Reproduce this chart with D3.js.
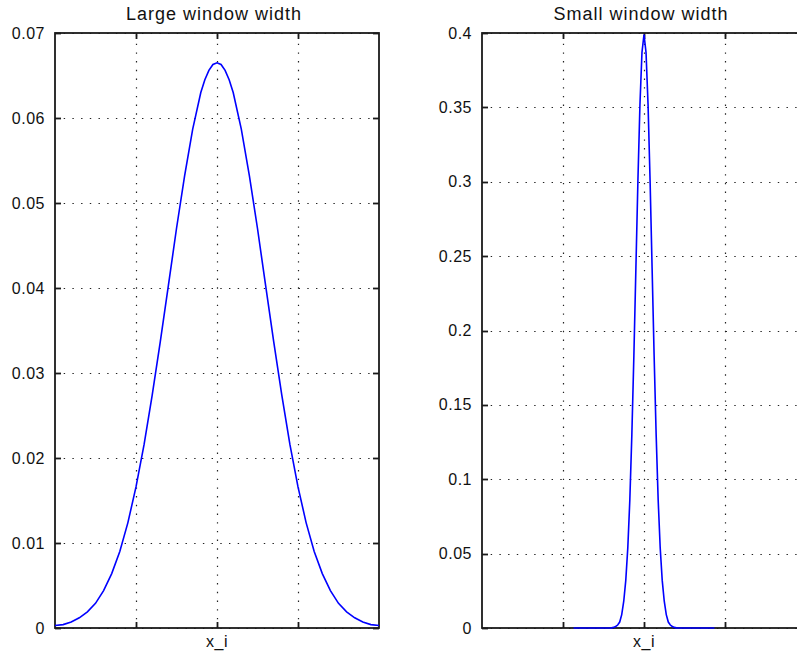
<!DOCTYPE html>
<html lang="en">
<head>
  <meta charset="UTF-8">
  <script src="https://d3js.org/d3.v7.min.js"></script>
  <title>Window width</title>
  <style>
    body { margin: 0; background: #fff; }
    text { font-family: "Liberation Sans", Arial, Helvetica, sans-serif; fill: #111; }
  </style>
</head>
<body>
  <svg width="797" height="658"></svg>
  <script>
    // shared x axis
    const xDomain = [-20, 20];
    const xTicks = [-10, 0, 10];
    const xTickLabels = ["", "x_i", ""];

    // left panel: large window width
    const largeTitle = "Large window width";
    const largeYTicks = [0, 0.01, 0.02, 0.03, 0.04, 0.05, 0.06, 0.07];
    const largeYLabels = ["0", "0.01", "0.02", "0.03", "0.04", "0.05", "0.06", "0.07"];
    const largeX = [-20, -19, -18, -17, -16, -15, -14, -13, -12, -11, -10, -9, -8, -7, -6, -5, -4, -3, -2, -1.5, -1, -0.5,
      0, 0.5, 1, 1.5, 2, 3, 4, 5, 6, 7, 8, 9, 10, 11, 12, 13, 14, 15, 16, 17, 18, 19, 20];
    const largeY = [0.0003, 0.0004, 0.0007, 0.0012, 0.0019, 0.0029, 0.0044, 0.0064, 0.0090, 0.0124,
      0.0166, 0.0216, 0.0274, 0.0337, 0.0403, 0.0470, 0.0532, 0.0587, 0.0630, 0.0645, 0.0656, 0.0663,
      0.0665,
      0.0663, 0.0656, 0.0645, 0.0630, 0.0587, 0.0532, 0.0470, 0.0403, 0.0337, 0.0274, 0.0216, 0.0166,
      0.0124, 0.0090, 0.0064, 0.0044, 0.0029, 0.0019, 0.0012, 0.0007, 0.0004, 0.0003];

    // right panel: small window width
    const smallTitle = "Small window width";
    const smallYTicks = [0, 0.05, 0.1, 0.15, 0.2, 0.25, 0.3, 0.35, 0.4];
    const smallYLabels = ["0", "0.05", "0.1", "0.15", "0.2", "0.25", "0.3", "0.35", "0.4"];
    const smallX = [-8.7, -4, -3.75, -3.5, -3.25, -3, -2.75, -2.5, -2.25, -2, -1.75, -1.5, -1.25, -1, -0.75, -0.5, -0.25,
      0, 0.25, 0.5, 0.75, 1, 1.25, 1.5, 1.75, 2, 2.25, 2.5, 2.75, 3, 3.25, 3.5, 3.75, 4, 8.7];
    const smallY = [0, 0.0001, 0.0004, 0.001, 0.002, 0.004, 0.009, 0.018, 0.032, 0.054, 0.086, 0.130, 0.183, 0.242, 0.301, 0.352, 0.387,
      0.399, 0.387, 0.352, 0.301, 0.242, 0.183, 0.130, 0.086, 0.054, 0.032, 0.018, 0.009, 0.004, 0.002, 0.001, 0.0004, 0.0001, 0];

    const svg = d3.select("svg");

    function drawPanel(opt) {
      const x = d3.scaleLinear().domain(xDomain).range([opt.left, opt.right]);
      const y = d3.scaleLinear().domain([0, opt.yMax]).range([628, 33]);
      const g = svg.append("g");
      const tick = 6;

      // dotted grid
      g.selectAll(".vgrid").data(xTicks).join("line")
        .attr("x1", d => Math.round(x(d)) + 0.5).attr("x2", d => Math.round(x(d)) + 0.5)
        .attr("y1", y(0)).attr("y2", y(opt.yMax))
        .attr("stroke", "#222").attr("stroke-width", 1.2).attr("stroke-dasharray", "1.4 7.3");
      g.selectAll(".hgrid").data(opt.yTicks).join("line")
        .attr("x1", x(xDomain[0])).attr("x2", x(xDomain[1]))
        .attr("y1", d => Math.round(y(d)) + 0.5).attr("y2", d => Math.round(y(d)) + 0.5)
        .attr("stroke", "#222").attr("stroke-width", 1.2).attr("stroke-dasharray", "1.4 7.3");

      // box
      g.append("rect")
        .attr("x", opt.left).attr("y", y(opt.yMax))
        .attr("width", opt.right - opt.left).attr("height", y(0) - y(opt.yMax))
        .attr("fill", "none").attr("stroke", "#1a1a1a").attr("stroke-width", 1.8);

      // inward ticks on all sides
      xTicks.forEach(t => {
        const px = Math.round(x(t)) + 0.5;
        g.append("line").attr("x1", px).attr("x2", px).attr("y1", y(0)).attr("y2", y(0) - tick)
          .attr("stroke", "#1a1a1a").attr("stroke-width", 1.8);
        g.append("line").attr("x1", px).attr("x2", px).attr("y1", y(opt.yMax)).attr("y2", y(opt.yMax) + tick)
          .attr("stroke", "#1a1a1a").attr("stroke-width", 1.8);
      });
      opt.yTicks.forEach(t => {
        const py = Math.round(y(t)) + 0.5;
        g.append("line").attr("x1", opt.left).attr("x2", opt.left + tick).attr("y1", py).attr("y2", py)
          .attr("stroke", "#1a1a1a").attr("stroke-width", 1.8);
        g.append("line").attr("x1", opt.right).attr("x2", opt.right - tick).attr("y1", py).attr("y2", py)
          .attr("stroke", "#1a1a1a").attr("stroke-width", 1.8);
      });

      // tick labels
      g.selectAll(".ylab").data(opt.yTicks).join("text")
        .attr("x", opt.left - 10).attr("y", d => y(d)).attr("dy", "0.35em")
        .attr("text-anchor", "end").attr("font-size", 16).attr("letter-spacing", 0.5)
        .text((d, i) => opt.yLabels[i]);
      g.selectAll(".xlab").data(xTicks).join("text")
        .attr("x", d => x(d)).attr("y", 647)
        .attr("text-anchor", "middle").attr("font-size", 16).attr("letter-spacing", 0.5)
        .text((d, i) => xTickLabels[i]);

      // title
      g.append("text")
        .attr("x", (opt.left + opt.right) / 2 - 3).attr("y", 20)
        .attr("text-anchor", "middle").attr("font-size", 18).attr("letter-spacing", 1)
        .text(opt.title);

      // curve
      const line = d3.line().x(d => x(d[0])).y(d => y(d[1]));
      g.append("path")
        .attr("d", line(d3.zip(opt.xs, opt.ys)))
        .attr("fill", "none").attr("stroke", "#0000ff").attr("stroke-width", 1.6);
    }

    drawPanel({ left: 55, right: 379, yMax: 0.07, yTicks: largeYTicks, yLabels: largeYLabels,
      title: largeTitle, xs: largeX, ys: largeY });
    drawPanel({ left: 482, right: 806, yMax: 0.4, yTicks: smallYTicks, yLabels: smallYLabels,
      title: smallTitle, xs: smallX, ys: smallY });
  </script>
</body>
</html>
